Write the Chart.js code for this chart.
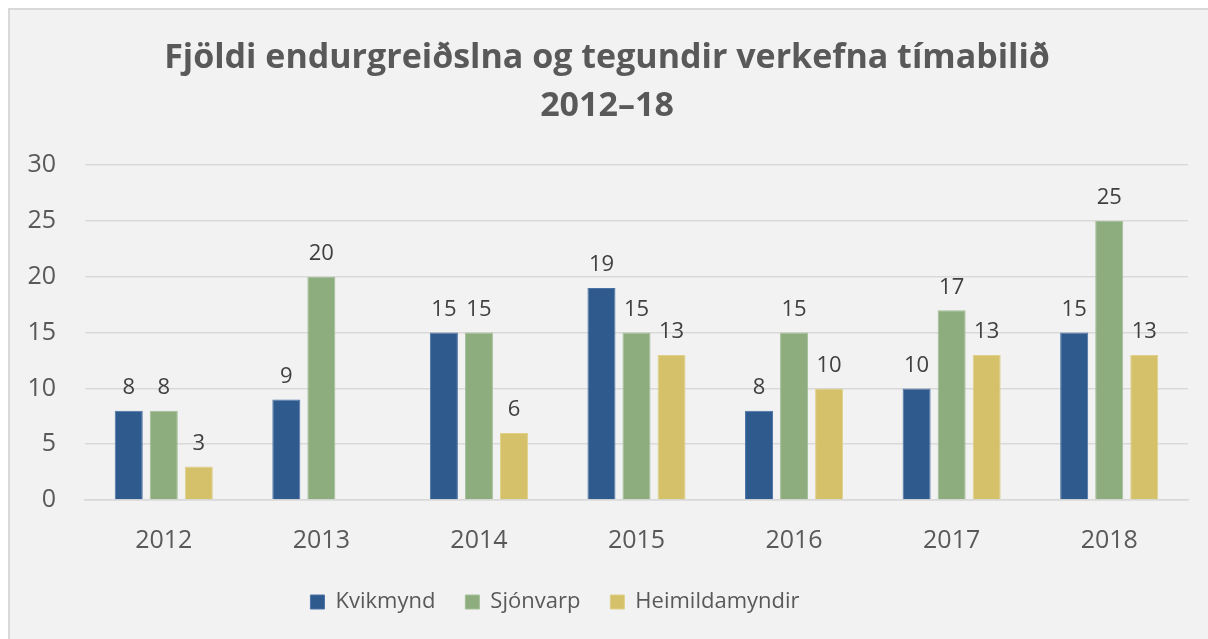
<!DOCTYPE html>
<html>
<head>
<meta charset="utf-8">
<script src="https://cdn.jsdelivr.net/npm/chart.js@4.4.0/dist/chart.umd.min.js"></script>
<style>
  html, body { margin: 0; padding: 0; background: #ffffff; }
  .frame {
    position: absolute; left: 8px; top: 8px;
    width: 1198px; height: 629px;
    border-left: 2px solid #d9d9d9; border-top: 2px solid #d9d9d9;
    background: #f2f2f2;
  }
</style>
</head>
<body>
<div class="frame"><canvas id="chart" width="1198" height="629"></canvas></div>
<script>
// Chart data
const years = ['2012', '2013', '2014', '2015', '2016', '2017', '2018'];
const kvikmynd = [8, 9, 15, 19, 8, 10, 15];
const sjonvarp = [8, 20, 15, 15, 15, 17, 25];
const heimildamyndir = [3, null, 6, 13, 10, 13, 13];
const yTicks = [0, 5, 10, 15, 20, 25, 30];

const FONT = "'Open Sans', 'Noto Sans', sans-serif";

// Draw the value above each bar
const valueLabels = {
    id: 'valueLabels',
    afterDatasetsDraw(chart) {
        const c = chart.ctx;
        c.save();
        c.font = '22px ' + FONT;
        c.fillStyle = '#404040';
        c.textAlign = 'center';
        c.textBaseline = 'bottom';
        chart.data.datasets.forEach((ds, i) => {
            chart.getDatasetMeta(i).data.forEach((bar, j) => {
                const v = ds.data[j];
                if (v === null || v === undefined) return;
                c.fillText(String(v), bar.x, bar.y - 12);
            });
        });
        c.restore();
    }
};

// Legend sits a bit left of centre in the original
const legendShift = {
    id: 'legendShift',
    afterLayout(chart) {
        chart.legend.left -= 52;
        chart.legend.right -= 52;
    }
};

const ctx = document.getElementById('chart').getContext('2d');
new Chart(ctx, {
    type: 'bar',
    data: {
        labels: years,
        datasets: [
            { label: 'Kvikmynd', data: kvikmynd, backgroundColor: '#2e5a8e', borderColor: '#4a72a6', borderWidth: 1 },
            { label: 'Sjónvarp', data: sjonvarp, backgroundColor: '#8dad7e', borderColor: '#a3bf96', borderWidth: 1 },
            { label: 'Heimildamyndir', data: heimildamyndir, backgroundColor: '#d4c16a', borderColor: '#e0d08a', borderWidth: 1 }
        ]
    },
    options: {
        responsive: false,
        animation: false,
        datasets: { bar: { categoryPercentage: 0.667, barPercentage: 0.8 } },
        layout: { padding: { top: 12, right: 20, bottom: 16, left: 16 } },
        plugins: {
            title: {
                display: true,
                text: ['Fjöldi endurgreiðslna og tegundir verkefna tímabilið', '2012–18'],
                color: '#595959',
                font: { family: FONT, size: 34, weight: 'bold', lineHeight: 1.4 },
                padding: { top: 13, bottom: 35 }
            },
            legend: {
                position: 'bottom',
                labels: {
                    color: '#595959',
                    font: { family: FONT, size: 22 },
                    boxWidth: 14,
                    boxHeight: 14,
                    padding: 30
                }
            },
            tooltip: { enabled: false }
        },
        scales: {
            y: {
                min: 0,
                max: 30,
                afterBuildTicks: axis => { axis.ticks = yTicks.map(v => ({ value: v })); },
                afterFit: axis => { axis.width = 59; },
                ticks: { color: '#595959', font: { family: FONT, size: 25 }, padding: 29 },
                grid: { color: '#d9d9d9', lineWidth: 1.5, drawTicks: false },
                border: { display: false }
            },
            x: {
                afterFit: axis => { axis.height = 61; },
                ticks: { color: '#595959', font: { family: FONT, size: 25 }, padding: 26 },
                grid: { display: false, drawTicks: false },
                border: { color: '#d9d9d9', width: 1.5 }
            }
        }
    },
    plugins: [valueLabels, legendShift]
});
</script>
</body>
</html>
